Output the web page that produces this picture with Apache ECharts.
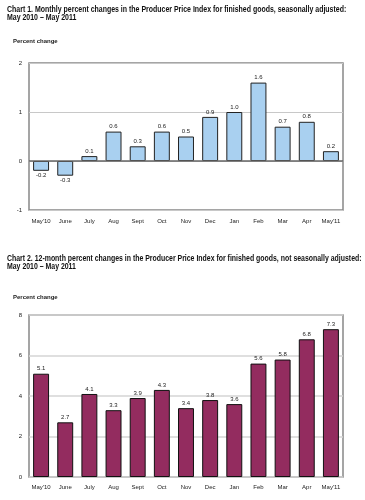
<!DOCTYPE html>
<html><head><meta charset="utf-8">
<script src="https://cdn.jsdelivr.net/npm/echarts@6/dist/echarts.min.js"></script>
<style>html,body{margin:0;padding:0;background:#fff}#c{width:365px;height:500px}</style>
</head><body><div id="c"></div>
<script>
var categories = ["May'10","June","July","Aug","Sept","Oct","Nov","Dec","Jan","Feb","Mar","Apr","May'11"];
var monthlyChange = [-0.2,-0.3,0.1,0.6,0.3,0.6,0.5,0.9,1.0,1.6,0.7,0.8,0.2];
var yearlyChange = [5.1,2.7,4.1,3.3,3.9,4.3,3.4,3.8,3.6,5.6,5.8,6.8,7.3];
var title1 = ["Chart 1. Monthly percent changes in the Producer Price Index for finished goods, seasonally adjusted:","May 2010 \u2013 May 2011"];
var title2 = ["Chart 2. 12-month percent changes in the Producer Price Index for finished goods, not seasonally adjusted:","May 2010 \u2013 May 2011"];
var yLabel = "Percent change";

var F = "'Liberation Sans', Arial, sans-serif";
var chart = echarts.init(document.getElementById('c'), null, {renderer:'canvas'});
function titleText(lines, y, sx){
  return {type:'text', left:7, top:y, scaleX:sx, style:{text:lines.join('\n'), font:'bold 8.5px '+F, fill:'#111', lineHeight:8.5}};
}
var axisLabel = {fontSize:6, color:'#222', fontFamily:F, interval:0};
chart.setOption({
  backgroundColor:'#fff',
  animation:false,
  graphic:[
    titleText(title1, 5, 0.82),
    titleText(title2, 254, 0.815),
    {type:'text', left:13, top:38, style:{text:yLabel, font:'bold 6px '+F, fill:'#222'}},
    {type:'text', left:13, top:294, style:{text:yLabel, font:'bold 6px '+F, fill:'#222'}}
  ],
  grid:[
    {left:29, top:63, width:314, height:147, show:true, borderColor:'#888', borderWidth:1.5, backgroundColor:'#fff'},
    {left:29, top:315, width:314, height:162, show:true, borderColor:'#888', borderWidth:1.5, backgroundColor:'#fff'}
  ],
  xAxis:[
    {gridIndex:0, type:'category', data:categories, axisLine:{show:false,onZero:false}, axisTick:{show:false}, axisLabel:Object.assign({margin:8},axisLabel)},
    {gridIndex:1, type:'category', data:categories, axisLine:{show:false,onZero:false}, axisTick:{show:false}, axisLabel:Object.assign({margin:7},axisLabel)}
  ],
  yAxis:[
    {gridIndex:0, type:'value', min:-1, max:2, interval:1, axisLine:{show:false}, axisTick:{show:false}, axisLabel:Object.assign({margin:7},axisLabel), splitLine:{lineStyle:{color:'#c8c8c8',width:1}}},
    {gridIndex:1, type:'value', min:0, max:8, interval:2, axisLine:{show:false}, axisTick:{show:false}, axisLabel:Object.assign({margin:7},axisLabel), splitLine:{lineStyle:{color:'#d4d4d4',width:1.5}}}
  ],
  series:[
    {type:'bar', xAxisIndex:0, yAxisIndex:0, barWidth:'66%',
     data: monthlyChange.map(function(v){return {value:v, label:{position: v<0?'bottom':'top'}};}),
     itemStyle:{color:'#A9D0F0', borderColor:'#222', borderWidth:1},
     label:{show:true, fontSize:6, color:'#222', fontFamily:F, distance:2, formatter:function(p){return p.value.toFixed(1);}},
     markLine:{silent:true, symbol:'none', label:{show:false}, lineStyle:{color:'#666', width:1.5, type:'solid'}, data:[{yAxis:0}]}
    },
    {type:'bar', xAxisIndex:1, yAxisIndex:1, barWidth:'66%',
     data: yearlyChange,
     itemStyle:{color:'#932C5F', borderColor:'#111', borderWidth:1},
     label:{show:true, position:'top', fontSize:6, color:'#222', fontFamily:F, distance:2, formatter:function(p){return p.value.toFixed(1);}}
    }
  ]
});
</script></body></html>
